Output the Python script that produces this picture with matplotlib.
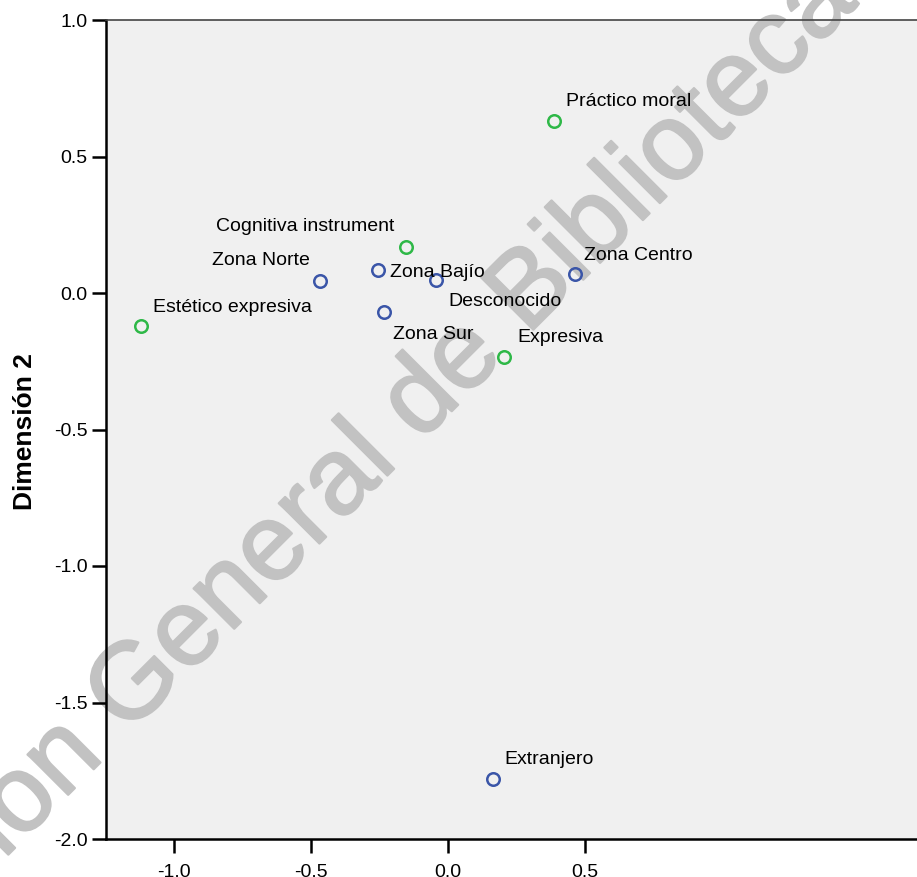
import matplotlib
matplotlib.use("Agg")
import matplotlib.pyplot as plt
import matplotlib.patheffects as pe

plt.rcParams['font.family'] = ['Liberation Sans', 'DejaVu Sans']

# row points (region of origin)
zona_labels = ["Zona Norte", "Zona Bajío", "Desconocido", "Zona Centro", "Zona Sur", "Extranjero"]
zona_x = [-0.465, -0.255, -0.043, 0.466, -0.234, 0.164]
zona_y = [0.044, 0.084, 0.048, 0.070, -0.070, -1.779]

# column points (type)
tipo_labels = ["Práctico moral", "Cognitiva instrument", "Estético expresiva", "Expresiva"]
tipo_x = [0.390, -0.153, -1.121, 0.207]
tipo_y = [0.631, 0.170, -0.121, -0.233]

yticks = [-2.0, -1.5, -1.0, -0.5, 0.0, 0.5, 1.0]
xticks = [-1.0, -0.5, 0.0, 0.5]

# label placement: (dx, dy in pixels, horizontal alignment)
zona_place = [(-11, 20, 'right'), (12, -2, 'left'), (12, -22, 'left'),
              (9, 18, 'left'), (9, -22, 'left'), (12, 19, 'left')]
tipo_place = [(12, 19, 'left'), (-11, 20, 'right'), (12, 19, 'left'), (13, 19, 'left')]

fig = plt.figure(figsize=(9.17, 8.77), dpi=100)
ax = fig.add_axes([105.6 / 917, 38 / 877, 1 - 105.6 / 917, 819 / 877])
ax.set_facecolor('#f0f0f0')

ax.set_xlim(-1.25, 1.715)
ax.set_ylim(-2.0, 1.0)

ax.plot(zona_x, zona_y, 'o', mfc='none', mec='#3a55a8', mew=1.8, ms=9, zorder=3)
ax.plot(tipo_x, tipo_y, 'o', mfc='none', mec='#2eb847', mew=1.8, ms=9, zorder=3)

for lab, x, y, (dx, dy, ha) in zip(zona_labels + tipo_labels, zona_x + tipo_x,
                                   zona_y + tipo_y, zona_place + tipo_place):
    ax.annotate(lab, (x, y), xytext=(dx, dy), textcoords='offset pixels',
                ha=ha, va='center', fontsize=14, color='black', zorder=4)

ax.set_xticks(xticks)
ax.set_xticklabels([f"{v:.1f}" for v in xticks])
ax.set_yticks(yticks)
ax.set_yticklabels([f"{v:.1f}" for v in yticks])
ax.tick_params(axis='both', length=10, width=1.8, labelsize=14, color='black')
ax.tick_params(axis='y', pad=3)
ax.tick_params(axis='x', pad=8)

ax.spines['right'].set_visible(False)
ax.spines['left'].set_linewidth(1.8)
ax.spines['bottom'].set_linewidth(1.8)
ax.spines['top'].set_linewidth(1.2)
ax.spines['top'].set_color('#444444')

ax.set_ylabel("Dimensión 2", fontsize=19, fontweight='bold')
ax.yaxis.set_label_coords((37 - 105.6) / 811.4, 0.497)

# library watermark across the page
wm = ax.text(0.373, 0.406, "Dirección General de Bibliotecas", transform=fig.transFigure,
             rotation=45, rotation_mode='anchor', ha='center', va='baseline',
             fontsize=78, color='#c2c2c2', zorder=0.5, clip_on=False)
wm.set_path_effects([pe.withStroke(linewidth=1.6, foreground='#c2c2c2')])

fig.savefig("out.png", dpi=100)
